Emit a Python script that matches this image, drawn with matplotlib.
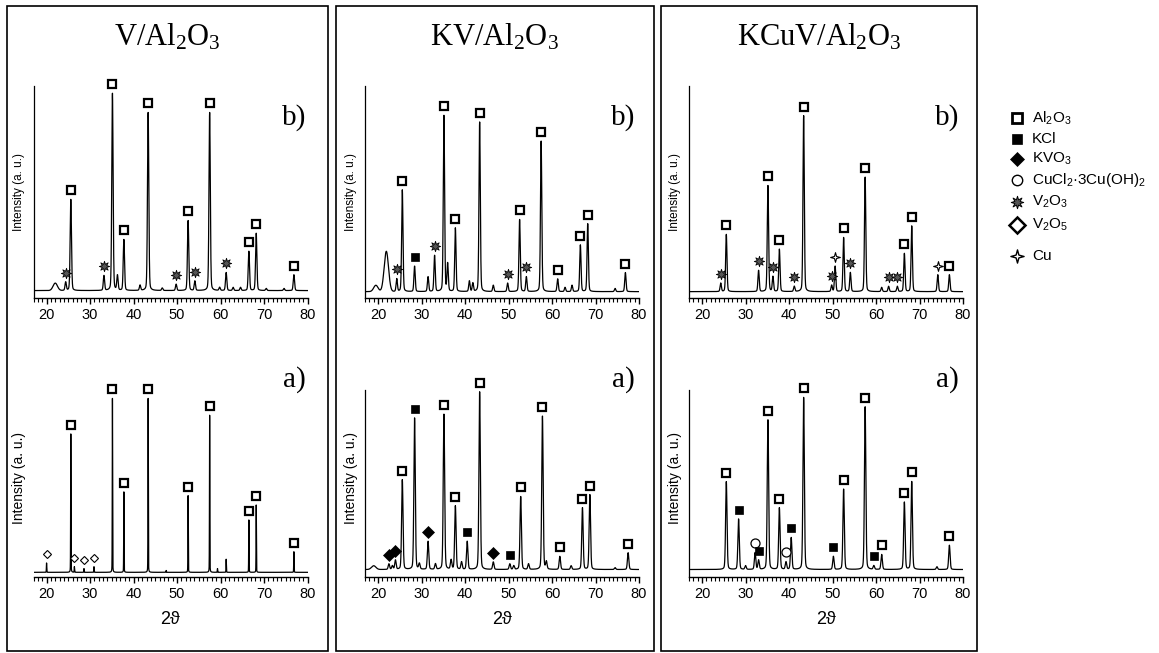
import numpy as np
import matplotlib
matplotlib.use("Agg")
import matplotlib.pyplot as plt
from matplotlib.path import Path
from matplotlib.lines import Line2D
from matplotlib.patches import Rectangle
from matplotlib.ticker import MultipleLocator
from matplotlib.transforms import ScaledTranslation

plt.rcParams["mathtext.default"] = "regular"

# ---------------------------------------------------------------------------
# Diffraction data: peak position (2theta, deg), peak intensity above the
# background (% of axis height) and the phase assigned to each reflection.
# ---------------------------------------------------------------------------
two_theta_range = (17.0, 80.0)
tick_labels = ["20", "30", "40", "50", "60", "70", "80"]

# V/Al2O3 - b)
v_b_pos = [24.4, 25.58, 33.2, 35.15, 36.3, 37.78, 41.5, 43.36, 46.6, 49.8, 52.55,
           54.1, 57.50, 59.8, 61.3, 62.9, 64.6, 66.52, 68.21, 70.5, 74.6, 76.87]
v_b_int = [4, 43, 7, 93, 7, 24, 2.5, 84, 1.2, 3, 33,
           4.5, 84, 1.5, 8.5, 1.5, 1.5, 18.5, 27, 1, 1, 7.5]
v_b_phase = ["V2O3", "Al2O3", "V2O3", "Al2O3", "", "Al2O3", "", "Al2O3", "", "V2O3", "Al2O3",
             "V2O3", "Al2O3", "", "V2O3", "", "", "Al2O3", "Al2O3", "", "", "Al2O3"]
v_b_hump_pos = [22.0]
v_b_hump_int = [3.5]
v_b_base = 3.5

# V/Al2O3 - a)
v_a_pos = [20.0, 25.58, 26.4, 28.6, 30.9, 35.15, 37.78, 43.36, 47.5, 52.55,
           57.50, 59.3, 61.3, 66.52, 68.21, 76.87]
v_a_int = [5, 74, 3, 2, 3, 93, 43, 93, 1, 41,
           84, 2, 7, 28, 36, 11]
v_a_phase = ["V2O5", "Al2O3", "V2O5", "V2O5", "V2O5", "Al2O3", "Al2O3", "Al2O3", "", "Al2O3",
             "Al2O3", "", "", "Al2O3", "Al2O3", "Al2O3"]
v_a_hump_pos = []
v_a_hump_int = []
v_a_base = 2.5

# KV/Al2O3 - b)
kv_b_pos = [24.3, 25.58, 28.4, 31.5, 33.0, 35.15, 36.0, 37.78, 41.0, 41.8, 43.36, 46.5,
            49.8, 52.55, 54.1, 57.50, 61.3, 63.0, 64.6, 66.52, 68.21, 74.5, 76.87]
kv_b_int = [6, 48, 12, 7, 17, 83, 13, 30, 5, 4, 80, 3,
            4, 34, 7, 71, 6, 2, 3, 22, 32, 1.5, 9]
kv_b_phase = ["V2O3", "Al2O3", "KCl", "", "V2O3", "Al2O3", "", "Al2O3", "", "", "Al2O3", "",
              "V2O3", "Al2O3", "V2O3", "Al2O3", "Al2O3", "", "", "Al2O3", "Al2O3", "", "Al2O3"]
kv_b_hump_pos = [19.5, 21.9]
kv_b_hump_int = [3, 19]
kv_b_base = 3.0

# KV/Al2O3 - a)
kv_a_pos = [22.5, 23.3, 24.0, 25.58, 28.4, 29.5, 31.5, 33.2, 35.15, 36.8, 37.78, 39.2, 40.5,
            43.36, 46.5, 50.3, 51.2, 52.8, 54.6, 57.8, 58.7, 61.8, 64.4, 67.0, 68.7, 74.5, 77.5]
kv_a_int = [3, 2, 5, 48, 81, 3, 15, 3, 83, 5, 34, 4, 15,
            95, 4, 3, 2, 39, 3, 82, 4, 7, 2, 33, 40, 1, 9]
kv_a_phase = ["KVO3", "", "KVO3", "Al2O3", "KCl", "", "KVO3", "", "Al2O3", "", "Al2O3", "", "KCl",
              "Al2O3", "KVO3", "KCl", "", "Al2O3", "", "Al2O3", "", "Al2O3", "", "Al2O3", "Al2O3", "", "Al2O3"]
kv_a_hump_pos = [19.0]
kv_a_hump_int = [2]
kv_a_base = 4.0

# KCuV/Al2O3 - b)
kcuv_b_pos = [24.3, 25.58, 33.0, 35.15, 36.3, 37.78, 41.2, 43.36, 49.8, 50.6, 52.55, 54.1,
              57.50, 61.3, 62.9, 64.9, 66.52, 68.21, 74.2, 76.87]
kcuv_b_int = [4, 27, 10, 50, 7, 20, 2.5, 83, 3, 12, 25.5, 9,
              54, 2, 2.5, 2.5, 18, 31, 8, 8]
kcuv_b_phase = ["V2O3", "Al2O3", "V2O3", "Al2O3", "V2O3", "Al2O3", "V2O3", "Al2O3", "V2O3", "Cu", "Al2O3", "V2O3",
                "Al2O3", "", "V2O3", "V2O3", "Al2O3", "Al2O3", "Cu", "Al2O3"]
kcuv_b_hump_pos = []
kcuv_b_hump_int = []
kcuv_b_base = 3.0

# KCuV/Al2O3 - a)
kcuv_a_pos = [25.58, 28.4, 30.0, 32.2, 33.0, 35.15, 37.78, 39.3, 40.5, 43.36, 50.2, 52.55,
              57.50, 59.5, 61.3, 66.52, 68.21, 74.0, 76.87]
kcuv_a_int = [47, 27, 2, 9, 5, 80, 33, 4, 17, 92, 7, 43,
              87, 2, 8, 36, 47, 1.5, 13]
kcuv_a_phase = ["Al2O3", "KCl", "", "CuCl2", "KCl", "Al2O3", "Al2O3", "CuCl2", "KCl", "Al2O3", "KCl", "Al2O3",
                "Al2O3", "KCl", "Al2O3", "Al2O3", "Al2O3", "", "Al2O3"]
kcuv_a_hump_pos = []
kcuv_a_hump_int = []
kcuv_a_base = 4.0

sample_titles = [r"V/Al$_2$O$_3$", r"KV/Al$_2$O$_3$", r"KCuV/Al$_2$O$_3$"]
legend_keys = ["Al2O3", "KCl", "KVO3", "CuCl2", "V2O3", "V2O5", "Cu"]
legend_labels = [r"Al$_2$O$_3$", "KCl", r"KVO$_3$", r"CuCl$_2$·3Cu(OH)$_2$",
                 r"V$_2$O$_3$", r"V$_2$O$_5$", "Cu"]

# ---------------------------------------------------------------------------
# Marker glyphs for the phases
# ---------------------------------------------------------------------------
burst = Path.unit_regular_star(8, innerCircle=0.45)
_cu = []
for k in range(8):
    ang = np.pi / 2 + k * np.pi / 4
    r = 1.0 if k % 2 == 0 else 0.3
    _cu.append((r * np.cos(ang), r * np.sin(ang)))
cu_star = Path(_cu + [_cu[0]], closed=True)

phase_style = {
    "Al2O3": dict(marker="s", ms=6.3, mfc="white", mec="black", mew=1.6),
    "KCl": dict(marker="s", ms=5.8, mfc="black", mec="black", mew=0.5),
    "KVO3": dict(marker="D", ms=5.8, mfc="black", mec="black", mew=0.5),
    "CuCl2": dict(marker="o", ms=6.5, mfc="white", mec="black", mew=0.9),
    "V2O3": dict(marker=burst, ms=7.5, mfc="#555555", mec="black", mew=0.6),
    "V2O5": dict(marker="D", ms=4.0, mfc="white", mec="black", mew=0.8),
    "Cu": dict(marker=cu_star, ms=7.0, mfc="white", mec="black", mew=0.8),
}
legend_style = {
    "Al2O3": dict(marker="s", ms=7.5, mfc="white", mec="black", mew=2.0),
    "KCl": dict(marker="s", ms=6.5, mfc="black", mec="black", mew=0.5),
    "KVO3": dict(marker="D", ms=7.0, mfc="black", mec="black", mew=0.5),
    "CuCl2": dict(marker="o", ms=7.5, mfc="white", mec="black", mew=1.0),
    "V2O3": dict(marker=burst, ms=9.0, mfc="#555555", mec="black", mew=0.7),
    "V2O5": dict(marker="D", ms=8.0, mfc="white", mec="black", mew=1.8),
    "Cu": dict(marker=cu_star, ms=9.5, mfc="white", mec="black", mew=1.0),
}


def profile(pos, inten, base, sigma, hump_pos, hump_int):
    """Pseudo-Voigt peak sum on a flat background."""
    x = np.arange(two_theta_range[0], two_theta_range[1] + 1e-9, 0.01)
    y = np.full_like(x, base)
    gamma = 1.2 * sigma
    for p, h in zip(pos, inten):
        g = np.exp(-0.5 * ((x - p) / sigma) ** 2)
        lor = 1.0 / (1.0 + ((x - p) / gamma) ** 2)
        y += h * (0.8 * g + 0.2 * lor)
    for p, h in zip(hump_pos, hump_int):
        y += h * np.exp(-0.5 * ((x - p) / 0.5) ** 2)
    return x, y


# ---------------------------------------------------------------------------
# Figure layout (pixel geometry of a 1159 x 653 canvas)
# ---------------------------------------------------------------------------
W, H = 1159, 653
fig = plt.figure(figsize=(W / 100, H / 100), dpi=100)


def fx(x):
    return x / W


def fy(y):
    return 1 - y / H


panel_left = [7.0, 336.0, 660.5]
panel_right = [328.0, 653.5, 977.0]
axes_left = [33.5, 365.0, 689.0]
axes_width = 274.0
rows = {"b": (86.0, 298.0), "a": (390.0, 577.0)}

patterns = [
    (0, "b", v_b_pos, v_b_int, v_b_phase, v_b_base, 0.15, v_b_hump_pos, v_b_hump_int),
    (0, "a", v_a_pos, v_a_int, v_a_phase, v_a_base, 0.04, v_a_hump_pos, v_a_hump_int),
    (1, "b", kv_b_pos, kv_b_int, kv_b_phase, kv_b_base, 0.15, kv_b_hump_pos, kv_b_hump_int),
    (1, "a", kv_a_pos, kv_a_int, kv_a_phase, kv_a_base, 0.16, kv_a_hump_pos, kv_a_hump_int),
    (2, "b", kcuv_b_pos, kcuv_b_int, kcuv_b_phase, kcuv_b_base, 0.15, kcuv_b_hump_pos, kcuv_b_hump_int),
    (2, "a", kcuv_a_pos, kcuv_a_int, kcuv_a_phase, kcuv_a_base, 0.16, kcuv_a_hump_pos, kcuv_a_hump_int),
]

serif = ["Liberation Serif", "DejaVu Serif"]
sans = ["Liberation Sans", "DejaVu Sans"]

for col, row, pos, inten, phase, base, sigma, hpos, hint in patterns:
    top, bottom = rows[row]
    ax = fig.add_axes([fx(axes_left[col]), fy(bottom), axes_width / W, (bottom - top) / H])
    x, y = profile(pos, inten, base, sigma, hpos, hint)
    ax.plot(x, y, color="black", lw=0.9)
    ax.set_xlim(*two_theta_range)
    ax.set_ylim(0, 100)

    lift = ax.transData + ScaledTranslation(0, 6.5 / 72, fig.dpi_scale_trans)
    for p, ph in zip(pos, phase):
        if not ph:
            continue
        near = np.abs(x - p) < 0.25
        ax.plot([p], [y[near].max()], transform=lift, clip_on=False,
                ls="none", zorder=5, **phase_style[ph])

    for side in ("top", "right"):
        ax.spines[side].set_visible(False)
    ax.spines["bottom"].set_linewidth(1.0)
    ax.spines["left"].set_linewidth(0.9)
    if col == 0 and row == "a":
        ax.spines["left"].set_visible(False)
    ax.set_yticks([])
    ax.xaxis.set_major_locator(MultipleLocator(10))
    ax.xaxis.set_minor_locator(MultipleLocator(1))
    ax.set_xticks(range(20, 81, 10))
    ax.set_xticklabels(tick_labels, fontfamily=sans, fontsize=10.5)
    ax.tick_params(axis="x", which="major", direction="out", length=4.5, width=1.0, pad=3)
    ax.tick_params(axis="x", which="minor", direction="out", length=3.0, width=0.8)
    ax.patch.set_alpha(0)

    ysize = 8.5 if row == "b" else 10
    fig.text(fx(axes_left[col] - 14), fy((top + bottom) / 2 + (0 if row == "b" else -5)),
             "Intensity (a. u.)", rotation=90, ha="center", va="center",
             fontfamily=sans, fontsize=ysize)
    fig.text(fx(panel_left[col] + 287), fy(118 if row == "b" else 380), row + ")",
             ha="center", va="center", fontfamily=serif, fontsize=21)

for col in range(3):
    l, r = panel_left[col], panel_right[col]
    fig.add_artist(Rectangle((fx(l), fy(651)), fx(r - l), (651 - 5.5) / H,
                             transform=fig.transFigure, fill=False, ec="black", lw=1.2))
    fig.text(fx((l + r) / 2), fy(37), sample_titles[col], ha="center", va="center",
             fontfamily=serif, fontsize=22)
    fig.text(fx(axes_left[col] + axes_width / 2), fy(620), "2ϑ", ha="center", va="center",
             fontfamily=sans, fontsize=13)

# Phase key
legend_rows = [118, 139, 159, 180, 202, 225, 256]
for key, label, yy in zip(legend_keys, legend_labels, legend_rows):
    fig.add_artist(Line2D([fx(1017)], [fy(yy)], transform=fig.transFigure, ls="none",
                          **legend_style[key]))
    fig.text(fx(1032), fy(yy), label, ha="left", va="center", fontfamily=sans, fontsize=11)

fig.savefig("out.png", dpi=100)
